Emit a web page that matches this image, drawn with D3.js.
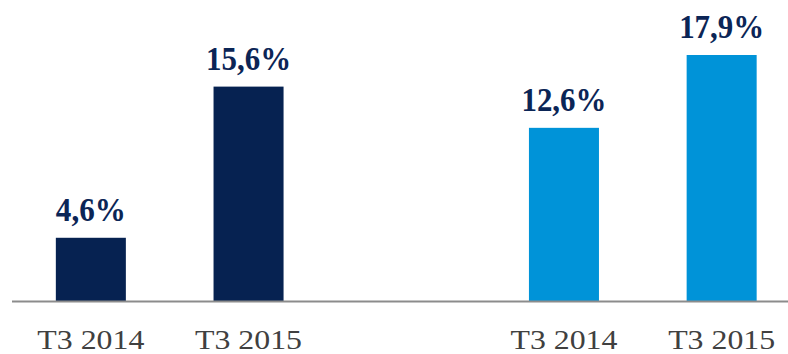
<!DOCTYPE html>
<html>
<head>
<meta charset="utf-8">
<script src="https://cdn.jsdelivr.net/npm/d3@7"></script>
<style>
  html, body { margin: 0; padding: 0; background: #fff; }
  svg { display: block; }
</style>
</head>
<body>
<svg id="chart" width="788" height="354"></svg>
<script>
// Quarterly rates: two groups of two bars, separated by an empty slot
const categories = ["A T3 2014", "A T3 2015", "gap", "B T3 2014", "B T3 2015"];
const tickLabels = ["T3 2014", "T3 2015", "", "T3 2014", "T3 2015"];
const values = [4.6, 15.6, null, 12.6, 17.9];
const groups = ["dark", "dark", null, "light", "light"];

const colors = { dark: "#062251", light: "#0093d8" };

const svg = d3.select("#chart");
const baseY = 301;

const x = d3.scaleBand()
  .domain(categories)
  .range([12, 800.5])
  .paddingInner(0.556)
  .paddingOuter(0.278);

const y = d3.scaleLinear().domain([0, 17.9]).range([baseY, 55]);

const data = categories.map((c, i) => ({ c, v: values[i], g: groups[i], t: tickLabels[i] }))
  .filter(d => d.v !== null);

const bw = x.bandwidth();
const fmt = v => d3.format(".1f")(v).replace(".", ",") + "%";

svg.append("g").selectAll("rect")
  .data(data)
  .join("rect")
  .attr("x", d => x(d.c))
  .attr("y", d => y(d.v))
  .attr("width", bw)
  .attr("height", d => baseY - y(d.v))
  .attr("fill", d => colors[d.g]);

svg.append("line")
  .attr("x1", 12).attr("x2", 788)
  .attr("y1", baseY + 0.5).attr("y2", baseY + 0.5)
  .attr("stroke", "#8c8c8c").attr("stroke-width", 2);

// value labels above bars
svg.append("g").selectAll("text")
  .data(data)
  .join("text")
  .attr("x", d => x(d.c) + bw / 2)
  .attr("y", d => y(d.v) - 17)
  .attr("text-anchor", "middle")
  .style("font-family", "'Liberation Serif', serif")
  .style("font-weight", "bold")
  .style("font-size", "33px")
  .attr("textLength", d => fmt(d.v).length === 4 ? 70 : 85)
  .attr("lengthAdjust", "spacingAndGlyphs")
  .attr("fill", "#0b2556")
  .text(d => fmt(d.v));

// category labels under the baseline
svg.append("g").selectAll("text")
  .data(data)
  .join("text")
  .attr("x", d => x(d.c) + bw / 2)
  .attr("y", 349)
  .attr("text-anchor", "middle")
  .style("font-family", "'Liberation Serif', serif")
  .style("font-size", "27px")
  .attr("textLength", 107)
  .attr("lengthAdjust", "spacingAndGlyphs")
  .attr("fill", "#404040")
  .text(d => d.t);
</script>
</body>
</html>
